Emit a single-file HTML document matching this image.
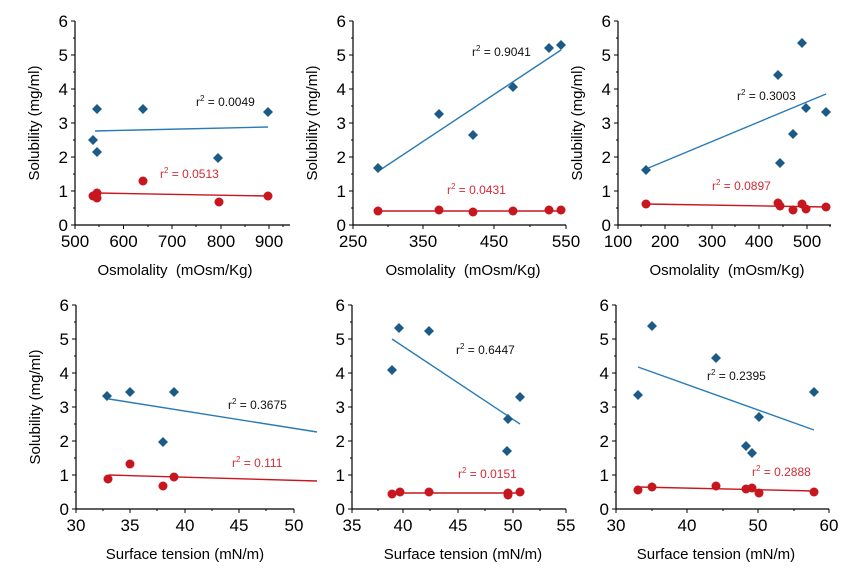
<!DOCTYPE html>
<html><head><meta charset="utf-8"><style>
html,body{margin:0;padding:0;background:#fff;}
svg{display:block;font-family:"Liberation Sans",sans-serif;}
</style></head><body>
<svg id="s" width="856" height="578" viewBox="0 0 856 578" xmlns="http://www.w3.org/2000/svg"></svg>
<script>
const s=document.getElementById('s');let h='';
const BL='#1c5b88',BLL='#2a7bb5',RD='#c8161e',RDT='#d42a36';
function panel(p){
 const ax=p.ax,y0=p.y0,y6=p.y0-204;
 h+=`<line x1="${ax}" y1="${y6}" x2="${ax}" y2="${y0}" stroke="#000" stroke-width="1.2"/>`;
 h+=`<line x1="${ax}" y1="${y0}" x2="${p.xend}" y2="${y0}" stroke="#000" stroke-width="1.2"/>`;
 for(let i=0;i<=6;i++){const y=y0-34*i;
  h+=`<line x1="${ax-4}" y1="${y}" x2="${ax}" y2="${y}" stroke="#000"/>`;
  if(i<6)h+=`<line x1="${ax-2}" y1="${y-17}" x2="${ax}" y2="${y-17}" stroke="#000"/>`;
  h+=`<text x="${ax-7}" y="${y+6}" font-size="17" text-anchor="end">${i}</text>`;}
 p.xt.forEach(t=>{h+=`<line x1="${t[0]}" y1="${y0}" x2="${t[0]}" y2="${y0+4}" stroke="#000"/>`;
  h+=`<text x="${t[0]}" y="${y0+22}" font-size="17" text-anchor="middle">${t[1]}</text>`;});
 (p.minor||[]).forEach(x=>{h+=`<line x1="${x}" y1="${y0}" x2="${x}" y2="${y0+2}" stroke="#000"/>`;});
 h+=`<text x="${p.xlx}" y="${y0+50}" font-size="15" text-anchor="middle">${p.xl}</text>`;
 if(p.yl)h+=`<text transform="translate(${ax-36},${y0-102}) rotate(-90)" font-size="15" text-anchor="middle">Solubility (mg/ml)</text>`;
 h+=`<line x1="${p.bl[0]}" y1="${p.bl[1]}" x2="${p.bl[2]}" y2="${p.bl[3]}" stroke="${BLL}" stroke-width="1.4"/>`;
 h+=`<line x1="${p.rl[0]}" y1="${p.rl[1]}" x2="${p.rl[2]}" y2="${p.rl[3]}" stroke="${RD}" stroke-width="1.4"/>`;
 p.b.forEach(q=>{h+=`<polygon points="${q[0]},${q[1]-5} ${q[0]+5},${q[1]} ${q[0]},${q[1]+5} ${q[0]-5},${q[1]}" fill="${BL}"/>`;});
 p.r.forEach(q=>{h+=`<circle cx="${q[0]}" cy="${q[1]}" r="4.5" fill="${RD}"/>`;});
 h+=`<text x="${p.bt[0]}" y="${p.bt[1]}" font-size="12" fill="#111">r<tspan font-size="8" dy="-5">2</tspan><tspan dy="5"> = ${p.bt[2]}</tspan></text>`;
 h+=`<text x="${p.rt[0]}" y="${p.rt[1]}" font-size="12" fill="${RDT}">r<tspan font-size="8" dy="-5">2</tspan><tspan dy="5"> = ${p.rt[2]}</tspan></text>`;
}
panel({ax:75,y0:225,xend:290,yl:1,xt:[[75,500],[123.5,600],[172,700],[221,800],[269,900]],minor:[99,148,196,245,283],
 xl:"Osmolality&#160;&#160;(mOsm/Kg)",xlx:175,bl:[95,131,268,127],rl:[97,193,268,196],
 b:[[97,109],[93,140],[97,152],[143,109],[218,158],[268,112]],r:[[93,196],[97,193],[97,198],[143,181],[219,202],[268,196]],
 bt:[196,106,"0.0049"],rt:[160,178,"0.0513"]});
panel({ax:353,y0:225,xend:566,yl:1,xt:[[353,250],[423,350],[494,450],[566,550]],minor:[388,459,530],
 xl:"Osmolality&#160;&#160;(mOsm/Kg)",xlx:463,bl:[377,172,561,50],rl:[378,211,561,211],
 b:[[378,168],[439,114],[473,135],[513,87],[549,48],[561,45]],r:[[378,211],[439,210],[473,212],[513,211],[549,210],[561,210]],
 bt:[472,56,"0.9041"],rt:[447,194,"0.0431"]});
panel({ax:618,y0:225,xend:831,yl:1,xt:[[618,100],[665,200],[712,300],[759,400],[807,500]],minor:[641,688,735,783,830],
 xl:"Osmolality&#160;&#160;(mOsm/Kg)",xlx:727,bl:[646,169,826,94],rl:[646,204,826,207],
 b:[[646,170],[778,75],[802,43],[806,108],[826,112],[793,134],[780,163]],r:[[646,204],[778,203],[780,206],[802,204],[793,210],[806,209],[826,207]],
 bt:[737,100,"0.3003"],rt:[712,190,"0.0897"]});
panel({ax:76,y0:509,xend:294,yl:1,xt:[[76,30],[130,35],[185,40],[239,45],[294,50]],minor:[103,157,212,266],
 xl:"Surface tension (mN/m)",xlx:185,bl:[109,399,317,432],rl:[109,475,317,481],
 b:[[107,396],[130,392],[174,392],[163,442]],r:[[108,479],[130,464],[163,486],[174,477]],
 bt:[228,409,"0.3675"],rt:[232,467,"0.111"]});
panel({ax:352,y0:509,xend:566,yl:0,xt:[[352,35],[403,40],[458,45],[513,50],[566,55]],minor:[378,430,485,540],
 xl:"Surface tension (mN/m)",xlx:463,bl:[392,339,520,424],rl:[392,493,520,493],
 b:[[392,370],[399,328],[429,331],[508,419],[507,451],[520,397]],r:[[392,494],[400,492],[429,492],[508,493],[508,495],[520,492]],
 bt:[456,354,"0.6447"],rt:[458,478,"0.0151"]});
panel({ax:616,y0:509,xend:829,yl:0,xt:[[616,30],[687,40],[758,50],[829,60]],minor:[652,723,794],
 xl:"Surface tension (mN/m)",xlx:716,bl:[638,367,814,430],rl:[638,487,814,491],
 b:[[638,395],[652,326],[716,358],[746,446],[752,453],[759,417],[814,392]],r:[[638,490],[652,487],[716,486],[746,489],[752,488],[759,493],[814,492]],
 bt:[707,380,"0.2395"],rt:[752,476,"0.2888"]});
s.innerHTML=h;
</script>
</body></html>
